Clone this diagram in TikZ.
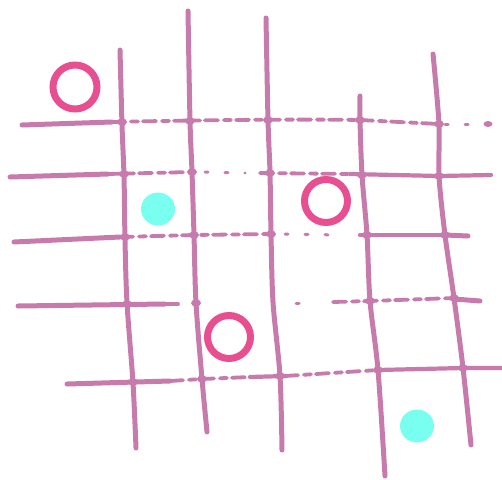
\documentclass[tikz,border=0pt]{standalone}
\begin{document}
\begin{tikzpicture}[x=1pt,y=-1pt]
\definecolor{linec}{HTML}{C77BAD}
\definecolor{ringc}{HTML}{E84F91}
\definecolor{dotc}{HTML}{78FFF0}
\tikzset{
  vline/.style={draw=linec, line width=5pt, line cap=round, line join=round},
  hsolid/.style={draw=linec, line width=5pt, line cap=round, line join=round},
  hdash/.style={draw=linec, line width=3.8pt, line cap=round, dash pattern=on 13pt off 6pt on 7pt off 5pt},
  hsparse/.style={draw=linec, line width=3pt, line cap=round, dash pattern=on 3pt off 17pt},
  knot/.style={fill=linec, draw=none},
  ring/.style={draw=ringc, line width=7pt},
  blob/.style={fill=dotc, draw=none}
}
\useasboundingbox (0,0) rectangle (502,479);
% vertical lines
\draw[vline] plot[smooth] coordinates {(120,50) (122,125) (124,176) (125,240) (127,303) (133,383) (136,448)};
\draw[vline] plot[smooth] coordinates {(188,11) (190,121) (192,172) (194,235) (196,303) (202,379) (207,432)};
\draw[vline] plot[smooth] coordinates {(266,18) (268,120) (270,173) (271,234) (273,302) (280,376) (282,450)};
\draw[vline] plot[smooth] coordinates {(360,96) (360,120) (362,175) (367,235) (370,301) (378,370) (385,476)};
\draw[vline] plot[smooth] coordinates {(433,54) (439,124) (439,176) (445,235) (454,298) (463,368) (471,445)};
% H1
\draw[hsolid] (22,125) -- (112,122);
\draw[hdash] (112,122) .. controls (200,120) and (300,119) .. (360,120) -- (439,124);
\draw[hsparse] (445,124) -- (480,124);
\fill[linec] (488,124) ellipse (4.5pt and 3pt);
% H2
\draw[hsolid] (10,177) -- (108,174);
\draw[hdash] (108,174) -- (192,172);
\draw[hsparse] (205,172) -- (245,173);
\draw[hdash] (260,173) -- (350,174);
\draw[hsolid, line width=4.2pt] (350,174) -- (439,176) -- (491,175);
% H3
\draw[hsolid] (14,242) -- (120,237);
\draw[hdash] (120,237) -- (194,235) -- (268,234);
\draw[hsparse] (285,234) -- (340,235);
\draw[hsolid, line width=4.2pt] (360,235) -- (445,235);
\draw[hsolid] (445,235) -- (468,236);
% H4
\draw[hsolid] (18,306) -- (165,304);
\draw[hdash] (165,304) -- (182,304);
\draw[hsparse] (296,303) -- (315,303);
\draw[hdash] (333,302) -- (370,301) -- (454,298);
\draw[hsolid] (454,299) -- (480,301);
% H5
\draw[hsolid] (67,384) -- (170,381);
\draw[hdash] (170,381) -- (202,379) -- (250,377);
\draw[hsolid, line width=4.2pt] (250,377) -- (285,376);
\draw[hdash] (285,376) -- (378,370);
\draw[hsolid, line width=4.2pt] (378,370) -- (463,368) -- (502,368);
% knots
\foreach \p in {(122,122),(190,121),(268,120),(360,120),(439,124),
                (124,174),(192,172),(362,175),(439,176),(270,173),
                (125,237),(194,235),(271,234),(367,235),(445,235),
                (127,304),(370,301),(454,298),(196,303),
                (133,382),(202,379),(280,376),(378,370),(463,368)}
  \fill[knot] \p ellipse (5pt and 3.6pt);
% rings
\draw[ring] (75,87) circle (22pt);
\draw[ring] (326,201) circle (21.5pt);
\draw[ring] (229,337) circle (21.5pt);
% blobs
\fill[blob] (158,209) ellipse (17pt and 16.5pt);
\fill[blob] (417,426) ellipse (17pt and 16.5pt);
\end{tikzpicture}
\end{document}
